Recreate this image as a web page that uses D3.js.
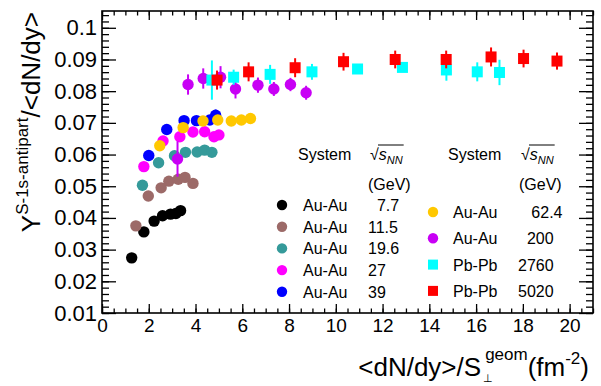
<!DOCTYPE html>
<html>
<head>
<meta charset="utf-8">
<script src="https://cdn.jsdelivr.net/npm/d3@7"></script>
<style>
    body { margin: 0; background: #fff; }
    svg { font-family: 'Liberation Sans', Arial, Helvetica, sans-serif; }
    .val { white-space: pre; }
</style>
</head>
<body>
<div id="chart"></div>
<script>
// x: <dN/dy>/S_perp (fm^-2), y: yield / <dN/dy>
const auau7x = [1.27, 1.79, 2.23, 2.59, 2.93, 3.16, 3.36];
const auau7y = [0.0274, 0.0356, 0.039, 0.0407, 0.0412, 0.0414, 0.0423];

const auau11x = [1.45, 1.98, 2.53, 2.86, 3.26, 3.55, 3.89];
const auau11y = [0.0375, 0.0469, 0.0495, 0.0516, 0.0522, 0.0528, 0.0509];

const auau19x = [1.73, 2.42, 3.1, 3.57, 4.07, 4.39, 4.7];
const auau19y = [0.0503, 0.0574, 0.0596, 0.0607, 0.0608, 0.0614, 0.0607];

const auau27x = [1.79, 2.61, 3.33, 3.89, 4.39, 4.79, 5.0];
const auau27y = [0.0562, 0.0643, 0.0656, 0.0671, 0.0672, 0.0656, 0.0662];

const auau39x = [2.0, 2.77, 3.51, 4.04, 4.61, 4.86];
const auau39y = [0.0597, 0.0679, 0.0707, 0.0707, 0.0709, 0.0724];
const auau39e = [0, 0, 0, 0, 0, 0.0018];

const auau62x = [2.47, 3.47, 4.32, 4.95, 5.53, 5.96, 6.35];
const auau62y = [0.0628, 0.0685, 0.0706, 0.0709, 0.0706, 0.0709, 0.0714];

const auau200x = [3.23, 3.68, 4.33, 5.07, 5.71, 6.67, 7.35, 8.06, 8.73];
const auau200y = [0.0586, 0.0821, 0.084, 0.0844, 0.0807, 0.0819, 0.0807, 0.0821, 0.0795];
const auau200e = [0.0056, 0.0032, 0.0032, 0.0035, 0.003, 0.0024, 0.0022, 0.0021, 0.0022];

const pbpb2760x = [4.7, 5.63, 7.19, 8.98, 10.93, 12.85, 14.73, 16.05, 17.0];
const pbpb2760y = [0.0835, 0.0844, 0.0853, 0.0861, 0.087, 0.0875, 0.0867, 0.0861, 0.0859];
const pbpb2760e = [0.0062, 0.0024, 0.003, 0.0025, 0.001, 0.001, 0.0034, 0.003, 0.004];

const pbpb5020x = [4.92, 6.27, 8.26, 10.33, 12.54, 14.72, 16.64, 18.03, 19.46];
const pbpb5020y = [0.0835, 0.0861, 0.0874, 0.0893, 0.09, 0.09, 0.0908, 0.0903, 0.0895];
const pbpb5020e = [0.003, 0.003, 0.003, 0.0028, 0.0028, 0.0028, 0.003, 0.0028, 0.0027];

const xTicks = [0, 2, 4, 6, 8, 10, 12, 14, 16, 18, 20];
const yTicks = [0.01, 0.02, 0.03, 0.04, 0.05, 0.06, 0.07, 0.08, 0.09, 0.1];
const yTickLabels = ['0.01', '0.02', '0.03', '0.04', '0.05', '0.06', '0.07', '0.08', '0.09', '0.1'];

const legendLeftSystems = ['Au-Au', 'Au-Au', 'Au-Au', 'Au-Au', 'Au-Au'];
const legendLeftEnergies = ['  7.7', '11.5', '19.6', '27', '39'];
const legendRightSystems = ['Au-Au', 'Au-Au', 'Pb-Pb', 'Pb-Pb'];
const legendRightEnergies = ['   62.4', '  200', '2760', '5020'];

const colors = ['#000000', '#9c6a68', '#359a9a', '#ff00ff', '#0000ff', '#ffc800', '#c800f5', '#00ffff', '#ff0000'];

const W = 601, H = 386;
const margin = { top: 11, right: 8, bottom: 73, left: 102 };

// assemble series (order = drawing order)
let series = [
    [auau7x, auau7y, null, 'circle'],
    [auau11x, auau11y, null, 'circle'],
    [auau19x, auau19y, null, 'circle'],
    [auau27x, auau27y, null, 'circle'],
    [auau39x, auau39y, auau39e, 'circle'],
    [auau62x, auau62y, null, 'circle'],
    [auau200x, auau200y, auau200e, 'circle'],
    [pbpb2760x, pbpb2760y, pbpb2760e, 'square'],
    [pbpb5020x, pbpb5020y, pbpb5020e, 'square'],
].map((s, i) => ({
    color: colors[i],
    shape: s[3],
    points: s[0].map((x, j) => ({ x: x, y: s[1][j], e: s[2] ? s[2][j] : 0 })),
}));

let svg = d3.select('#chart').append('svg').attr('width', W).attr('height', H);

let x = d3.scaleLinear().domain([0, 21]).range([margin.left, W - margin.right]);
let y = d3.scaleLinear().domain([0.01, 0.1053]).range([H - margin.bottom, margin.top]);

let xMinor = d3.range(0, 21.01, 0.5);
let yMinor = d3.range(0.01, 0.1053, 0.002);

// axes, ROOT style: ticks pointing inward on all four sides
function axis(gen, transform, values, size, labels) {
    let g = svg.append('g').attr('transform', transform)
        .call(gen.tickValues(values).tickSize(size).tickPadding(labels ? 5 : 0)
            .tickFormat(labels ? labels : ''));
    g.select('.domain').remove();
    g.selectAll('line').attr('stroke', '#000').attr('stroke-width', 1.3);
    return g;
}

let tBottom = `translate(0,${H - margin.bottom})`;
let tTop = `translate(0,${margin.top})`;
let tLeft = `translate(${margin.left},0)`;
let tRight = `translate(${W - margin.right},0)`;

axis(d3.axisBottom(x), tBottom, xMinor, -4.5);
axis(d3.axisBottom(x), tBottom, xTicks, -9, (d) => d)
    .selectAll('text').attr('font-size', 19).attr('fill', '#000').attr('dy', '0.75em');
axis(d3.axisTop(x), tTop, xMinor, -4.5);
axis(d3.axisTop(x), tTop, xTicks, -9);

axis(d3.axisLeft(y), tLeft, yMinor, -7);
axis(d3.axisLeft(y), tLeft, yTicks, -14, (d, i) => yTickLabels[i])
    .selectAll('text').attr('font-size', 22).attr('fill', '#000');
axis(d3.axisRight(y), tRight, yMinor, -7);
axis(d3.axisRight(y), tRight, yTicks, -14);

// frame
svg.append('rect')
    .attr('x', margin.left).attr('y', margin.top)
    .attr('width', W - margin.left - margin.right)
    .attr('height', H - margin.top - margin.bottom)
    .attr('fill', 'none').attr('stroke', '#000').attr('stroke-width', 1.6);

// data
const R = 5.7, SQ = 11;
series.forEach((s) => {
    let g = svg.append('g');
    g.selectAll('.err').data(s.points.filter((d) => d.e > 0)).enter().append('line')
        .attr('x1', (d) => x(d.x)).attr('x2', (d) => x(d.x))
        .attr('y1', (d) => y(d.y - d.e)).attr('y2', (d) => y(d.y + d.e))
        .attr('stroke', s.color).attr('stroke-width', 2);
    if (s.shape === 'circle') {
        g.selectAll('circle').data(s.points).enter().append('circle')
            .attr('cx', (d) => x(d.x)).attr('cy', (d) => y(d.y)).attr('r', R)
            .attr('fill', s.color);
    } else {
        g.selectAll('rect').data(s.points).enter().append('rect')
            .attr('x', (d) => x(d.x) - SQ / 2).attr('y', (d) => y(d.y) - SQ / 2)
            .attr('width', SQ).attr('height', SQ).attr('fill', s.color);
    }
});

// legend
function legendHeader(x0, xs) {
    svg.append('text').attr('x', x0).attr('y', 160).attr('font-size', 16).text('System');
    let t = svg.append('text').attr('x', xs).attr('y', 160).attr('font-size', 16);
    t.append('tspan').text('√');
    t.append('tspan').attr('font-style', 'italic').text('s');
    t.append('tspan').attr('font-style', 'italic').attr('font-size', 11).attr('dy', 4).text('NN');
    let len = t.node().getComputedTextLength();
    svg.append('line')
        .attr('x1', xs + 8).attr('x2', xs + len + 1)
        .attr('y1', 145).attr('y2', 145)
        .attr('stroke', '#000').attr('stroke-width', 1);
    svg.append('text').attr('x', xs - 2).attr('y', 190).attr('font-size', 16).text('(GeV)');
}

legendHeader(298, 370);
legendHeader(448, 521);

function legendRows(systems, energies, colorIdx, y0, step, mx, tx, vx, shapes) {
    systems.forEach((sys, i) => {
        let cy = y0 + i * step;
        let c = colors[colorIdx[i]];
        if (shapes[i] === 'circle') {
            svg.append('circle').attr('cx', mx).attr('cy', cy).attr('r', 5.2).attr('fill', c);
        } else {
            svg.append('rect').attr('x', mx - 5).attr('y', cy - 5).attr('width', 10).attr('height', 10).attr('fill', c);
        }
        svg.append('text').attr('x', tx).attr('y', cy + 6).attr('font-size', 16).text(sys);
        svg.append('text').attr('class', 'val').attr('x', vx).attr('y', cy + 6).attr('font-size', 16).text(energies[i]);
    });
}

legendRows(legendLeftSystems, legendLeftEnergies, [0, 1, 2, 3, 4], 205, 21.7, 282, 303, 368,
    ['circle', 'circle', 'circle', 'circle', 'circle']);
legendRows(legendRightSystems, legendRightEnergies, [5, 6, 7, 8], 212, 26.3, 433, 453, 518,
    ['circle', 'circle', 'square', 'square']);

// axis titles
let yt = svg.append('text')
    .attr('transform', 'translate(40,12) rotate(-90)')
    .attr('text-anchor', 'end').attr('font-size', 26);
yt.append('tspan').text('Y');
yt.append('tspan').attr('font-size', 17).attr('dy', -12).text('S-1s-antipart');
yt.append('tspan').attr('dy', 12).text('/<dN/dy>');

let xt = svg.append('text')
    .attr('x', 589).attr('y', 376)
    .attr('text-anchor', 'end').attr('font-size', 26);
xt.append('tspan').text('<dN/dy>/S');
xt.append('tspan').attr('font-size', 11).attr('dx', 2).attr('dy', 6).text('⊥');
xt.append('tspan').attr('font-size', 17).attr('dx', -8).attr('dy', -22).text('geom');
xt.append('tspan').attr('dy', 16).text('(fm');
xt.append('tspan').attr('font-size', 17).attr('dy', -12).text('-2');
xt.append('tspan').attr('dy', 12).text(')');
</script>
</body>
</html>
